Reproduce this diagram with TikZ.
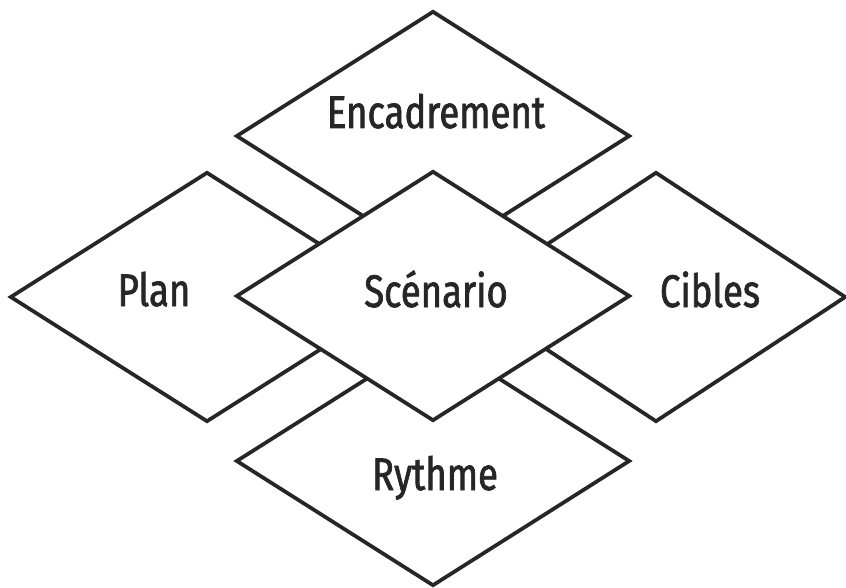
\documentclass[tikz,border=0pt]{standalone}
\usepackage{fontspec}
\setmainfont[FakeStretch=0.8,FakeBold=1.5]{Fira Sans}
\usetikzlibrary{shapes.geometric,positioning}

\begin{document}
\begin{tikzpicture}[
  x=0.02cm, y=-0.02cm,
  losange/.style={diamond, draw=black!85, fill=white, line width=0.075cm, inner sep=0pt, minimum width=7.88cm, minimum height=5cm},
  etiquette/.style={anchor=base, inner sep=0pt, text=black!85, font=\fontsize{26}{30}\selectfont}
]
  \useasboundingbox (0,0) rectangle (846,588);
  % outer diamonds first, the centre one lies on top
  \node[losange] (encadrement) at (433,136) {};
  \node[losange] (plan) at (207,297) {};
  \node[losange, minimum width=7.6cm] (cibles) at (656,297) {};
  \node[losange] (rythme) at (433,461) {};
  \node[losange] (scenario) at (433,296) {};
  \node[etiquette] (tencadrement) at (436,128) {Encadrement};
  \node[etiquette] (tplan) at (154,306) {Plan};
  \node[etiquette] (tcibles) at (710,307) {Cibles};
  \node[etiquette] (trythme) at (435,490) {Rythme};
  \node[etiquette] (tscenario) at (436,307) {Scénario};
\end{tikzpicture}
\end{document}
